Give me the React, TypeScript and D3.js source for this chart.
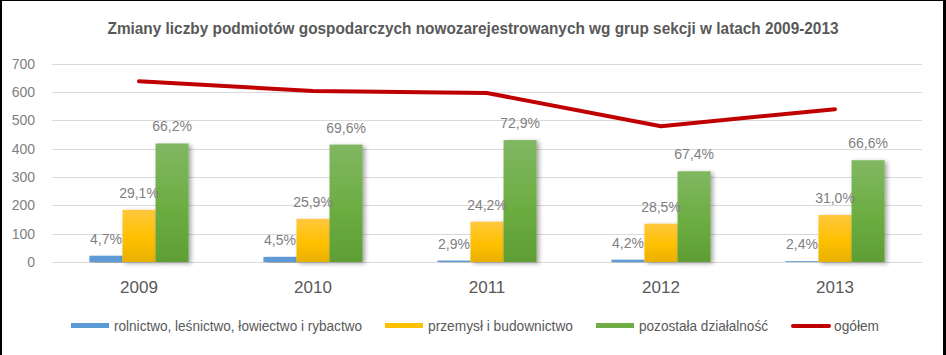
import React from "react";
import * as d3 from "d3";

const years = ["2009", "2010", "2011", "2012", "2013"];
const seriesNames = [
  "rolnictwo, leśnictwo, łowiectwo i rybactwo",
  "przemysł i budownictwo",
  "pozostała działalność",
];
const lineName = "ogółem";

const rolnictwo = [22, 18, 5, 8, 3];
const przemysl = [184, 152, 142, 135, 166];
const pozostala = [418, 414, 430, 320, 359];
const ogolem = [637, 603, 596, 479, 539];

const rolnictwoPct = ["4,7%", "4,5%", "2,9%", "4,2%", "2,4%"];
const przemyslPct = ["29,1%", "25,9%", "24,2%", "28,5%", "31,0%"];
const pozostalaPct = ["66,2%", "69,6%", "72,9%", "67,4%", "66,6%"];

const yTicks = [0, 100, 200, 300, 400, 500, 600, 700];

const W = 946;
const H = 355;
const margin = { top: 63.5, right: 24, bottom: 93, left: 52 };

const title =
  "Zmiany liczby podmiotów gospodarczych nowozarejestrowanych wg grup sekcji w latach 2009-2013";

const narrow = "'Liberation Sans Narrow', 'Arial Narrow', 'Liberation Sans', Arial, sans-serif";
const sans = "'Liberation Sans', Arial, sans-serif";

const App: React.FC = () => {
  const x = d3
    .scaleBand()
    .domain(years)
    .range([margin.left, W - margin.right])
    .padding(0);

  const groupW = x.bandwidth() * 0.57;
  const xs = d3
    .scaleBand()
    .domain(seriesNames)
    .range([0, groupW])
    .padding(0);

  const y = d3
    .scaleLinear()
    .domain([0, 700])
    .range([H - margin.bottom, margin.top]);

  const series = [
    { name: seriesNames[0], values: rolnictwo, labels: rolnictwoPct, fill: "#5b9bd5" },
    { name: seriesNames[1], values: przemysl, labels: przemyslPct, fill: "url(#gradYellow)" },
    { name: seriesNames[2], values: pozostala, labels: pozostalaPct, fill: "url(#gradGreen)" },
  ];

  const line = d3
    .line<number>()
    .x((_, i) => (x(years[i]) || 0) + x.bandwidth() / 2)
    .y((d) => y(d));

  // legenda
  const legendItems = [
    { name: seriesNames[0], color: "#5b9bd5", w: 248, kind: "rect" },
    { name: seriesNames[1], color: "#ffc000", w: 145, kind: "rect" },
    { name: seriesNames[2], color: "#70ad47", w: 129, kind: "rect" },
    { name: lineName, color: "#c00000", w: 45, kind: "line" },
  ];
  let lx = 71;
  const legend = legendItems.map((it) => {
    const pos = { ...it, x: lx };
    lx += 38 + 5 + it.w + 23;
    return pos;
  });
  const legendY = 326;

  return (
    <div style={{ position: "fixed", left: 0, top: 0 }}>
      <svg width={W} height={H} style={{ display: "block", background: "#fff" }}>
        <defs>
          <linearGradient id="gradYellow" x1="0" y1="0" x2="0" y2="1">
            <stop offset="0%" stopColor="#ffc83d" />
            <stop offset="55%" stopColor="#ffc000" />
            <stop offset="100%" stopColor="#e8b000" />
          </linearGradient>
          <linearGradient id="gradGreen" x1="0" y1="0" x2="0" y2="1">
            <stop offset="0%" stopColor="#81b762" />
            <stop offset="55%" stopColor="#6cad42" />
            <stop offset="100%" stopColor="#5e9e34" />
          </linearGradient>
          <filter id="barShadow" x="-30%" y="-10%" width="160%" height="120%">
            <feDropShadow dx="2.5" dy="1.5" stdDeviation="2" floodColor="#000" floodOpacity="0.35" />
          </filter>
        </defs>

        {/* ramka: lewa, prawa, góra */}
        <line x1={1} x2={1} y1={0} y2={H} stroke="#000" strokeWidth={2} />
        <line x1={W - 1.5} x2={W - 1.5} y1={0} y2={H} stroke="#000" strokeWidth={3} />
        <line x1={0} x2={W} y1={0.5} y2={0.5} stroke="#000" strokeWidth={1} />

        {/* tytuł */}
        <text
          x={W / 2}
          y={34}
          textAnchor="middle"
          fontFamily={narrow}
          fontWeight="bold"
          fontSize={17}
          fill="#595959"
          textLength={731}
          lengthAdjust="spacingAndGlyphs"
        >
          {title}
        </text>

        {/* siatka + oś Y */}
        {yTicks.map((t) => (
          <g key={t}>
            <line
              x1={margin.left}
              x2={W - margin.right}
              y1={Math.round(y(t)) + 0.5}
              y2={Math.round(y(t)) + 0.5}
              stroke="#d9d9d9"
              strokeWidth={1}
            />
            <text
              x={35}
              y={y(t)}
              dy={5}
              textAnchor="end"
              fontFamily={sans}
              fontSize={14}
              fill="#7f7f7f"
            >
              {t}
            </text>
          </g>
        ))}

        {/* słupki */}
        {series.map((s) =>
          s.values.map((v, i) => {
            const bx = (x(years[i]) || 0) + (x.bandwidth() - groupW) / 2 + (xs(s.name) || 0);
            return (
              <rect
                key={s.name + i}
                x={bx}
                y={y(v)}
                width={xs.bandwidth()}
                height={y(0) - y(v)}
                fill={s.fill}
                filter="url(#barShadow)"
              />
            );
          })
        )}

        {/* etykiety */}
        {series.map((s) =>
          s.values.map((v, i) => {
            const cx =
              (x(years[i]) || 0) +
              (x.bandwidth() - groupW) / 2 +
              (xs(s.name) || 0) +
              xs.bandwidth() / 2;
            return (
              <text
                key={"l" + s.name + i}
                x={cx}
                y={y(v) - 12}
                textAnchor="middle"
                fontFamily={sans}
                fontSize={14}
                fill="#808080"
              >
                {s.labels[i]}
              </text>
            );
          })
        )}

        {/* linia ogółem */}
        <path
          d={line(ogolem) || ""}
          fill="none"
          stroke="#c00000"
          strokeWidth={4}
          strokeLinecap="round"
          strokeLinejoin="round"
        />

        {/* oś X */}
        {years.map((yr) => (
          <text
            key={yr}
            x={(x(yr) || 0) + x.bandwidth() / 2}
            y={293}
            textAnchor="middle"
            fontFamily={sans}
            fontSize={17}
            fill="#595959"
          >
            {yr}
          </text>
        ))}

        {/* legenda */}
        {legend.map((it) => (
          <g key={it.name}>
            {it.kind === "rect" ? (
              <rect x={it.x} y={legendY - 3} width={38} height={5} fill={it.color} />
            ) : (
              <line
                x1={it.x + 2}
                x2={it.x + 38}
                y1={legendY}
                y2={legendY}
                stroke={it.color}
                strokeWidth={4}
                strokeLinecap="round"
              />
            )}
            <text
              x={it.x + 43}
              y={legendY + 5}
              fontFamily={narrow}
              fontSize={14}
              fill="#595959"
              textLength={it.w}
              lengthAdjust="spacingAndGlyphs"
            >
              {it.name}
            </text>
          </g>
        ))}
      </svg>
    </div>
  );
};

export default App;
